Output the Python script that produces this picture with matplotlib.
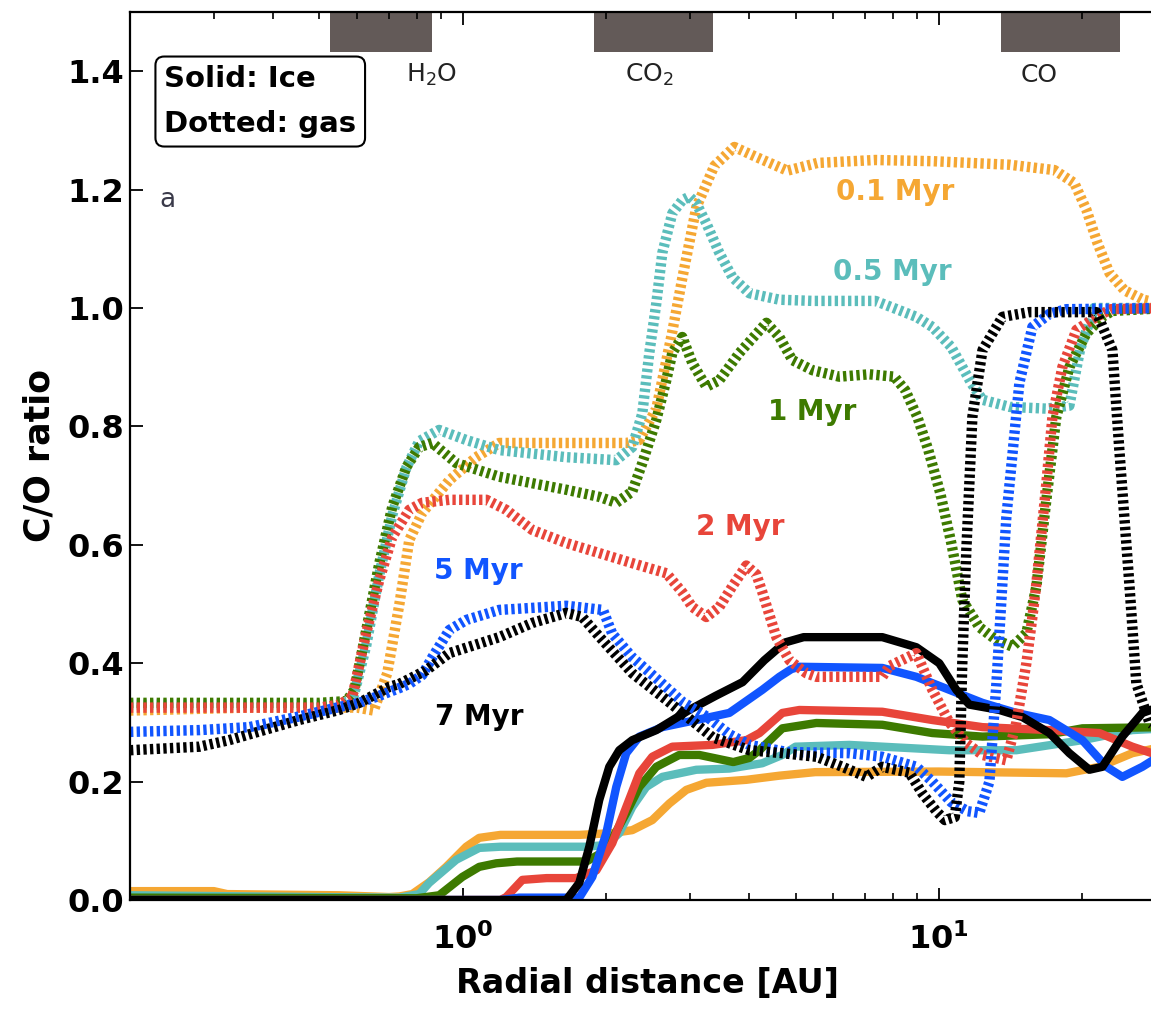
import matplotlib
matplotlib.use('Agg')
import matplotlib.pyplot as plt

plt.rcParams['font.family'] = 'DejaVu Sans'
plt.rcParams['font.weight'] = 'bold'

# ages and colours
ages = ['0.1 Myr', '0.5 Myr', '1 Myr', '2 Myr', '5 Myr', '7 Myr']
colors = ['#f5a733', '#5bbdbb', '#3d7a00', '#e8453a', '#1155ff', '#000000']

# gas (dotted) C/O ratio, radius in AU
gas_r = [
    [0.2, 0.356, 0.5, 0.6, 0.65, 0.694, 0.736, 0.772, 0.822, 0.937, 1.067, 1.193, 1.6, 2.0, 2.205, 2.349, 2.55,
     2.755, 2.891, 3.094, 3.376, 3.719, 4.137, 4.806, 5.557, 7.356, 9.69, 14.07, 17.48, 19.26, 20.41, 21.53,
     22.82, 24.53, 26.89, 30.0],
    [0.2, 0.5, 0.586, 0.627, 0.668, 0.711, 0.761, 0.81, 0.892, 1.017, 1.193, 1.65, 2.101, 2.27, 2.383, 2.465,
     2.55, 2.625, 2.755, 2.891, 2.991, 3.094, 3.248, 3.459, 3.684, 3.999, 4.624, 5.424, 7.356, 8.97, 9.69,
     10.62, 11.7, 12.35, 14.07, 16.82, 18.8, 19.8, 21.2, 30.0],
    [0.2, 0.5, 0.57, 0.592, 0.627, 0.668, 0.711, 0.761, 0.81, 0.863, 0.969, 1.193, 1.4, 1.65, 1.935, 2.101,
     2.27, 2.383, 2.55, 2.676, 2.755, 2.891, 3.035, 3.248, 3.459, 3.81, 4.342, 4.624, 4.923, 5.424, 6.18,
     7.145, 8.063, 8.503, 9.013, 9.504, 10.07, 10.62, 11.2, 12.16, 13.21, 14.27, 15.27, 16.03, 16.82, 17.65,
     18.8, 20.41, 22.06, 23.15, 30.0],
    [0.2, 0.5, 0.55, 0.586, 0.627, 0.668, 0.711, 0.772, 0.822, 0.937, 1.121, 1.234, 1.4, 1.65, 1.935, 2.27,
     2.676, 2.891, 3.035, 3.248, 3.459, 3.684, 3.941, 4.137, 4.258, 4.557, 4.853, 5.269, 5.53, 7.608, 7.87,
     8.969, 9.69, 10.52, 11.42, 12.35, 13.86, 14.55, 15.27, 15.72, 16.03, 16.82, 17.32, 18.17, 19.45, 21.42,
     23.0, 30.0],
    [0.2, 0.28, 0.356, 0.453, 0.55, 0.606, 0.668, 0.736, 0.772, 0.822, 0.863, 0.937, 1.017, 1.193, 1.65, 1.97,
     2.06, 2.27, 2.587, 2.891, 3.25, 3.63, 4.0, 4.8, 6.5, 7.6, 8.97, 9.69, 10.62, 11.5, 12.16, 12.77, 13.21,
     13.86, 14.76, 15.72, 17.07, 18.53, 30.0],
    [0.2, 0.28, 0.323, 0.453, 0.55, 0.606, 0.701, 0.736, 0.838, 0.937, 1.193, 1.4, 1.65, 1.782, 1.935, 2.27,
     2.676, 2.891, 3.344, 3.999, 4.691, 5.53, 6.271, 7.042, 7.608, 8.67, 9.233, 9.879, 10.3, 10.8, 11.04, 11.2,
     11.42, 11.76, 12.35, 13.6, 15.49, 21.42, 23.15, 23.94, 25.12, 25.99, 27.68, 30.0],
]
gas_co = [
    [0.32, 0.325, 0.325, 0.325, 0.32, 0.383, 0.5, 0.608, 0.654, 0.709, 0.748, 0.772, 0.772, 0.772, 0.772, 0.777,
     0.83, 0.96, 1.05, 1.17, 1.24, 1.272, 1.255, 1.232, 1.245, 1.25, 1.248, 1.242, 1.233, 1.211, 1.166, 1.11,
     1.059, 1.03, 1.014, 1.005],
    [0.33, 0.33, 0.335, 0.43, 0.55, 0.65, 0.73, 0.775, 0.794, 0.777, 0.76, 0.748, 0.743, 0.765, 0.822, 0.924,
     1.008, 1.093, 1.16, 1.182, 1.188, 1.177, 1.143, 1.093, 1.052, 1.025, 1.014, 1.012, 1.012, 0.985, 0.968,
     0.934, 0.873, 0.845, 0.833, 0.83, 0.835, 0.93, 1.0, 1.0],
    [0.333, 0.333, 0.336, 0.355, 0.456, 0.569, 0.664, 0.731, 0.765, 0.772, 0.738, 0.715, 0.704, 0.693, 0.681,
     0.671, 0.69, 0.738, 0.811, 0.878, 0.924, 0.951, 0.907, 0.867, 0.878, 0.924, 0.975, 0.951, 0.912, 0.895,
     0.884, 0.888, 0.884, 0.861, 0.816, 0.76, 0.687, 0.603, 0.507, 0.461, 0.439, 0.428, 0.451, 0.53, 0.676,
     0.816, 0.9, 0.957, 0.985, 0.995, 1.0],
    [0.325, 0.325, 0.33, 0.343, 0.451, 0.541, 0.613, 0.659, 0.671, 0.676, 0.676, 0.659, 0.625, 0.603, 0.586,
     0.569, 0.552, 0.52, 0.495, 0.478, 0.495, 0.53, 0.565, 0.55, 0.52, 0.444, 0.405, 0.383, 0.377, 0.377, 0.395,
     0.417, 0.355, 0.3, 0.265, 0.245, 0.236, 0.3, 0.4, 0.478, 0.535, 0.704, 0.816, 0.9, 0.963, 0.985, 0.998, 1.0],
    [0.284, 0.287, 0.292, 0.31, 0.326, 0.333, 0.345, 0.358, 0.365, 0.38, 0.41, 0.456, 0.473, 0.49, 0.497, 0.49,
     0.45, 0.41, 0.37, 0.335, 0.31, 0.28, 0.262, 0.25, 0.248, 0.242, 0.225, 0.2, 0.165, 0.15, 0.147, 0.2, 0.366,
     0.647, 0.873, 0.968, 0.99, 0.998, 1.0],
    [0.253, 0.259, 0.27, 0.304, 0.321, 0.333, 0.36, 0.365, 0.388, 0.417, 0.444, 0.468, 0.485, 0.478, 0.445,
     0.383, 0.338, 0.316, 0.275, 0.253, 0.248, 0.242, 0.225, 0.208, 0.225, 0.215, 0.18, 0.15, 0.135, 0.14, 0.2,
     0.4, 0.59, 0.816, 0.929, 0.985, 0.993, 0.993, 0.929, 0.76, 0.535, 0.366, 0.3, 0.28],
]

# ice (solid) C/O ratio, radius in AU
ice_r = [
    [0.2, 0.3, 0.32, 0.55, 0.7, 0.736, 0.783, 0.85, 0.923, 1.017, 1.083, 1.2, 1.757, 2.061, 2.27, 2.501, 2.716,
     2.948, 3.248, 3.941, 4.624, 5.5, 10.0, 18.53, 21.74, 25.49, 30.0],
    [0.2, 0.5, 0.736, 0.81, 0.85, 0.969, 1.083, 1.2, 1.818, 2.0, 2.132, 2.27, 2.429, 2.625, 3.094, 3.63, 4.258,
     4.691, 5.0, 6.486, 10.52, 14.55, 20.02, 25.49, 30.0],
    [0.2, 0.8, 0.892, 0.998, 1.083, 1.176, 1.3, 1.818, 2.0, 2.205, 2.349, 2.55, 2.85, 3.14, 3.7, 4.0, 4.2, 4.691,
     5.53, 7.608, 9.69, 12.35, 17.07, 20.02, 30.0],
    [0.2, 1.2, 1.234, 1.334, 1.5, 1.73, 1.908, 2.061, 2.205, 2.349, 2.501, 2.755, 3.344, 3.941, 4.2, 4.691, 5.094,
     7.608, 9.69, 12.35, 17.07, 21.74, 25.49, 30.0],
    [0.2, 1.2, 1.314, 1.757, 1.871, 2.002, 2.101, 2.205, 2.349, 2.625, 3.094, 3.63, 4.258, 4.624, 4.9, 5.094,
     7.608, 8.969, 10.52, 12.35, 14.55, 17.07, 20.02, 22.49, 24.29, 26.76, 30.0],
    [0.2, 1.65, 1.757, 1.844, 1.935, 2.031, 2.132, 2.27, 2.55, 2.99, 3.4, 3.87, 4.3, 4.75, 5.2, 7.608, 8.969,
     10.02, 10.88, 11.59, 13.4, 14.98, 17.07, 18.8, 20.71, 22.06, 24.29, 26.76, 30.0],
]
ice_co = [
    [0.015, 0.015, 0.01, 0.008, 0.005, 0.006, 0.01, 0.03, 0.056, 0.09, 0.105, 0.11, 0.11, 0.113, 0.118, 0.135,
     0.163, 0.186, 0.198, 0.203, 0.21, 0.216, 0.217, 0.214, 0.225, 0.248, 0.26],
    [0.008, 0.005, 0.004, 0.01, 0.029, 0.068, 0.088, 0.09, 0.09, 0.093, 0.113, 0.157, 0.191, 0.208, 0.22, 0.222,
     0.231, 0.245, 0.259, 0.262, 0.253, 0.253, 0.27, 0.287, 0.29],
    [0.004, 0.003, 0.008, 0.039, 0.056, 0.062, 0.065, 0.065, 0.084, 0.147, 0.191, 0.225, 0.245, 0.245, 0.233,
     0.24, 0.253, 0.29, 0.299, 0.296, 0.282, 0.276, 0.28, 0.29, 0.292],
    [0.0, 0.0, 0.005, 0.034, 0.037, 0.037, 0.05, 0.096, 0.157, 0.214, 0.242, 0.259, 0.262, 0.27, 0.282, 0.316,
     0.321, 0.318, 0.304, 0.292, 0.287, 0.282, 0.259, 0.24],
    [0.0, 0.0, 0.004, 0.004, 0.039, 0.113, 0.191, 0.248, 0.276, 0.292, 0.304, 0.316, 0.355, 0.377, 0.39, 0.394,
     0.392, 0.377, 0.355, 0.333, 0.316, 0.304, 0.27, 0.225, 0.208, 0.225, 0.25],
    [0.0, 0.0, 0.029, 0.09, 0.169, 0.225, 0.253, 0.27, 0.287, 0.321, 0.345, 0.368, 0.405, 0.435, 0.444, 0.444,
     0.427, 0.4, 0.355, 0.33, 0.321, 0.309, 0.282, 0.248, 0.22, 0.225, 0.276, 0.316, 0.33],
]

# label positions for each age
label_r = [8.1, 8.0, 5.42, 3.83, 1.078, 1.083]
label_co = [1.196, 1.061, 0.824, 0.63, 0.556, 0.309]

# snowlines (AU)
snow_names = [r'H$_\mathregular{2}$O', r'CO$_\mathregular{2}$', 'CO']
snow_lo = [0.527, 1.889, 13.53]
snow_hi = [0.863, 3.36, 24.05]
snow_text_r = [0.859, 2.465, 16.26]

fig = plt.figure(figsize=(11.51, 10.11), dpi=100)
ax = fig.add_axes([130 / 1151, 111 / 1011, 1036 / 1151, 888 / 1011])

for i in range(len(ages)):
    ax.plot(ice_r[i], ice_co[i], color=colors[i], lw=6, solid_joinstyle='round')
for i in range(len(ages)):
    ax.plot(gas_r[i], gas_co[i], color=colors[i], lw=7.5, linestyle=(0, (0.32, 0.32)))
    ax.text(label_r[i], label_co[i], ages[i], color=colors[i], fontsize=20,
            fontweight='bold', ha='center', va='center')

for lo, hi, name, tr in zip(snow_lo, snow_hi, snow_names, snow_text_r):
    ax.fill_between([lo, hi], 1.432, 1.5, color='#635a58', lw=0)
    ax.text(tr, 1.394, name, fontsize=18, fontweight='normal', color='#222222',
            ha='center', va='center')

ax.text(0.2394, 1.182, 'a', fontsize=19, fontweight='normal', color='#3a3a4a',
        ha='center', va='center')
ax.text(0.033, 0.94, 'Solid: Ice\nDotted: gas', transform=ax.transAxes, fontsize=21,
        fontweight='bold', va='top', ha='left', linespacing=1.75,
        bbox=dict(boxstyle='round,pad=0.3', fc='white', ec='black', lw=1.5))

ax.set_xscale('log')
ax.set_xlim(0.2, 30)
ax.set_ylim(0, 1.5)
ax.set_yticks([0.0, 0.2, 0.4, 0.6, 0.8, 1.0, 1.2, 1.4])
ax.set_xticks([1, 10])
ax.set_xticklabels([r'$\mathbf{10^{0}}$', r'$\mathbf{10^{1}}$'])
ax.tick_params(which='major', direction='in', length=9, width=1.3, top=True, right=True,
               labelsize=23)
ax.tick_params(which='minor', direction='in', length=5, width=1.2, top=True, right=True)
ax.tick_params(axis='x', which='major', pad=17)
ax.tick_params(axis='y', which='major', pad=4)
for s in ax.spines.values():
    s.set_linewidth(1.6)

ax.set_xlabel('Radial distance [AU]', fontsize=24, fontweight='bold', labelpad=8)
ax.set_ylabel('C/O ratio', fontsize=25, fontweight='bold', labelpad=8)

fig.savefig('out.png', dpi=100)
